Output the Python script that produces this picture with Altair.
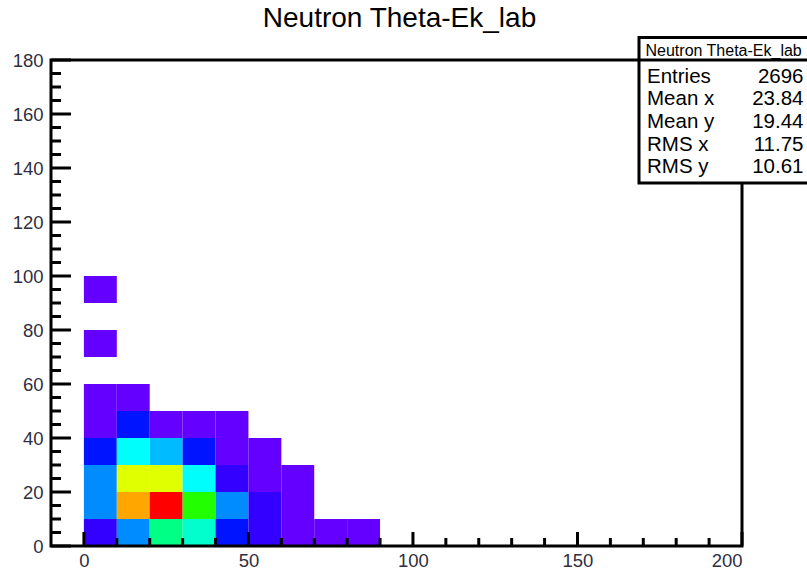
import colorsys

import altair as alt
import pandas as pd

title_text = "Neutron Theta-Ek_lab"

# Lower edges of the 10-unit Ek bins (x) used by the count lists below
ek_edges = [0, 10, 20, 30, 40, 50, 60, 70, 80]

# Lower edge of each theta band (y) and the counts per Ek bin in that band
theta_bands = [0, 10, 20, 30, 40, 50, 70, 90]
counts_theta0 = [28, 82, 152, 134, 46, 27, 9, 5, 3]
counts_theta10 = [84, 296, 356, 200, 80, 26, 9, 0, 0]
counts_theta20 = [78, 258, 262, 116, 22, 12, 5, 0, 0]
counts_theta30 = [44, 114, 98, 42, 13, 6, 0, 0, 0]
counts_theta40 = [12, 40, 15, 10, 4, 0, 0, 0, 0]
counts_theta50 = [4, 2, 0, 0, 0, 0, 0, 0, 0]
counts_theta70 = [1, 0, 0, 0, 0, 0, 0, 0, 0]
counts_theta90 = [1, 0, 0, 0, 0, 0, 0, 0, 0]
band_counts = [counts_theta0, counts_theta10, counts_theta20, counts_theta30,
               counts_theta40, counts_theta50, counts_theta70, counts_theta90]
bin_width = 10

# Axis tick positions
x_major = [0, 50, 100, 150, 200]
x_minor = [10, 20, 30, 40, 60, 70, 80, 90, 110, 120, 130, 140,
           160, 170, 180, 190]
y_major = [0, 20, 40, 60, 80, 100, 120, 140, 160, 180]
y_minor = [v for v in range(5, 180, 5) if v % 20 != 0]

# Statistics box rows
stat_names = ["Entries", "Mean x", "Mean y", "RMS x", "RMS y"]
stat_values = ["23.84", "19.44", "11.75", "10.61"]

rows = []
for lo_y, band in zip(theta_bands, band_counts):
    for lo_x, n in zip(ek_edges, band):
        if n > 0:
            rows.append({"x0": lo_x, "x1": lo_x + bin_width,
                         "y0": lo_y, "y1": lo_y + bin_width, "n": n})
cells = pd.DataFrame(rows)
entries = int(cells["n"].sum())
zmax = int(cells["n"].max())


# 20 contour levels picked from the 50-colour violet->red HLS palette
def pretty_colour(idx):
    hue = 280 - (idx + 1) * 5.6
    r, g, b = colorsys.hls_to_rgb(hue / 360.0, 0.5, 1.0)
    return "#%02x%02x%02x" % (round(r * 255), round(g * 255), round(b * 255))


n_levels = 20
palette = [pretty_colour(int((k + 0.99) * 50 / n_levels)) for k in range(n_levels)]

W, H = 691, 486
FONT = "Liberation Sans"
LABEL_COLOR = "#2f2f3f"

xscale = alt.Scale(domain=[-10, 200], nice=False, zero=False)
yscale = alt.Scale(domain=[0, 180], nice=False, zero=False)
xaxis = alt.Axis(values=x_major, ticks=False, domain=False, grid=False,
                 title=None, labelFont=FONT, labelFontSize=18.5,
                 labelColor=LABEL_COLOR, labelPadding=5)
yaxis = alt.Axis(values=y_major, ticks=False, domain=False, grid=False,
                 title=None, labelFont=FONT, labelFontSize=18.5,
                 labelColor=LABEL_COLOR, labelPadding=8)

heat = alt.Chart(cells).mark_rect(strokeWidth=0).encode(
    x=alt.X("x0:Q", scale=xscale, axis=xaxis),
    x2="x1:Q",
    y=alt.Y("y0:Q", scale=yscale, axis=yaxis),
    y2="y1:Q",
    color=alt.Color("n:Q", legend=None,
                    scale=alt.Scale(type="quantize", domain=[0, zmax],
                                    range=palette, nice=False, zero=False)),
)


def x_ticks(values, length):
    return alt.Chart(pd.DataFrame({"v": values})).mark_rule(
        color="black", strokeWidth=3
    ).encode(
        x=alt.X("v:Q", scale=xscale, axis=xaxis),
        y=alt.value(H),
        y2=alt.value(H - length),
    )


def y_ticks(values, length):
    return alt.Chart(pd.DataFrame({"v": values})).mark_rule(
        color="black", strokeWidth=3
    ).encode(
        y=alt.Y("v:Q", scale=yscale, axis=yaxis),
        x=alt.value(0),
        x2=alt.value(length),
    )


one = pd.DataFrame({"k": [0]})

frame = alt.Chart(one).mark_rect(
    fillOpacity=0, stroke="black", strokeWidth=3
).encode(x=alt.value(0), x2=alt.value(W), y=alt.value(0), y2=alt.value(H))

# Statistics box in the upper-right corner
box_left, box_right, box_top, box_bottom = 588, 790, -22.5, 123
stat_box = alt.Chart(one).mark_rect(
    fill="white", stroke="black", strokeWidth=3
).encode(x=alt.value(box_left), x2=alt.value(box_right),
         y=alt.value(box_top), y2=alt.value(box_bottom))
stat_sep = alt.Chart(one).mark_rule(color="black", strokeWidth=3).encode(
    x=alt.value(box_left), x2=alt.value(box_right), y=alt.value(0))

stat_header = alt.Chart(pd.DataFrame({"t": [title_text]})).mark_text(
    font=FONT, fontSize=16, align="left", baseline="alphabetic", color="black"
).encode(text="t:N", x=alt.value(594.5), y=alt.value(-4))

stat_layers = []
values_text = [str(entries)] + stat_values
for i, (name, val) in enumerate(zip(stat_names, values_text)):
    base_y = 22.5 + 22.7 * i
    stat_layers.append(
        alt.Chart(pd.DataFrame({"t": [name]})).mark_text(
            font=FONT, fontSize=20.5, align="left", baseline="alphabetic",
            color="black"
        ).encode(text="t:N", x=alt.value(596), y=alt.value(base_y))
    )
    stat_layers.append(
        alt.Chart(pd.DataFrame({"t": [val]})).mark_text(
            font=FONT, fontSize=20.5, align="right", baseline="alphabetic",
            color="black"
        ).encode(text="t:N", x=alt.value(752.5), y=alt.value(base_y))
    )

title = alt.Chart(pd.DataFrame({"t": [title_text]})).mark_text(
    font=FONT, fontSize=28, align="center", baseline="alphabetic", color="black"
).encode(text="t:N", x=alt.value(348.5), y=alt.value(-33))

chart = alt.layer(
    heat,
    x_ticks(x_major, 14),
    x_ticks(x_minor, 8),
    y_ticks(y_major, 20),
    y_ticks(y_minor, 10),
    frame,
    stat_box,
    stat_sep,
    stat_header,
    *stat_layers,
    title,
).properties(
    width=W,
    height=H,
    autosize=alt.AutoSizeParams(type="none"),
    padding={"left": 51, "top": 60, "right": 65, "bottom": 26},
    background="white",
).configure_view(strokeWidth=0)

chart.save("out.html", embed_options={"renderer": "svg", "actions": False})
